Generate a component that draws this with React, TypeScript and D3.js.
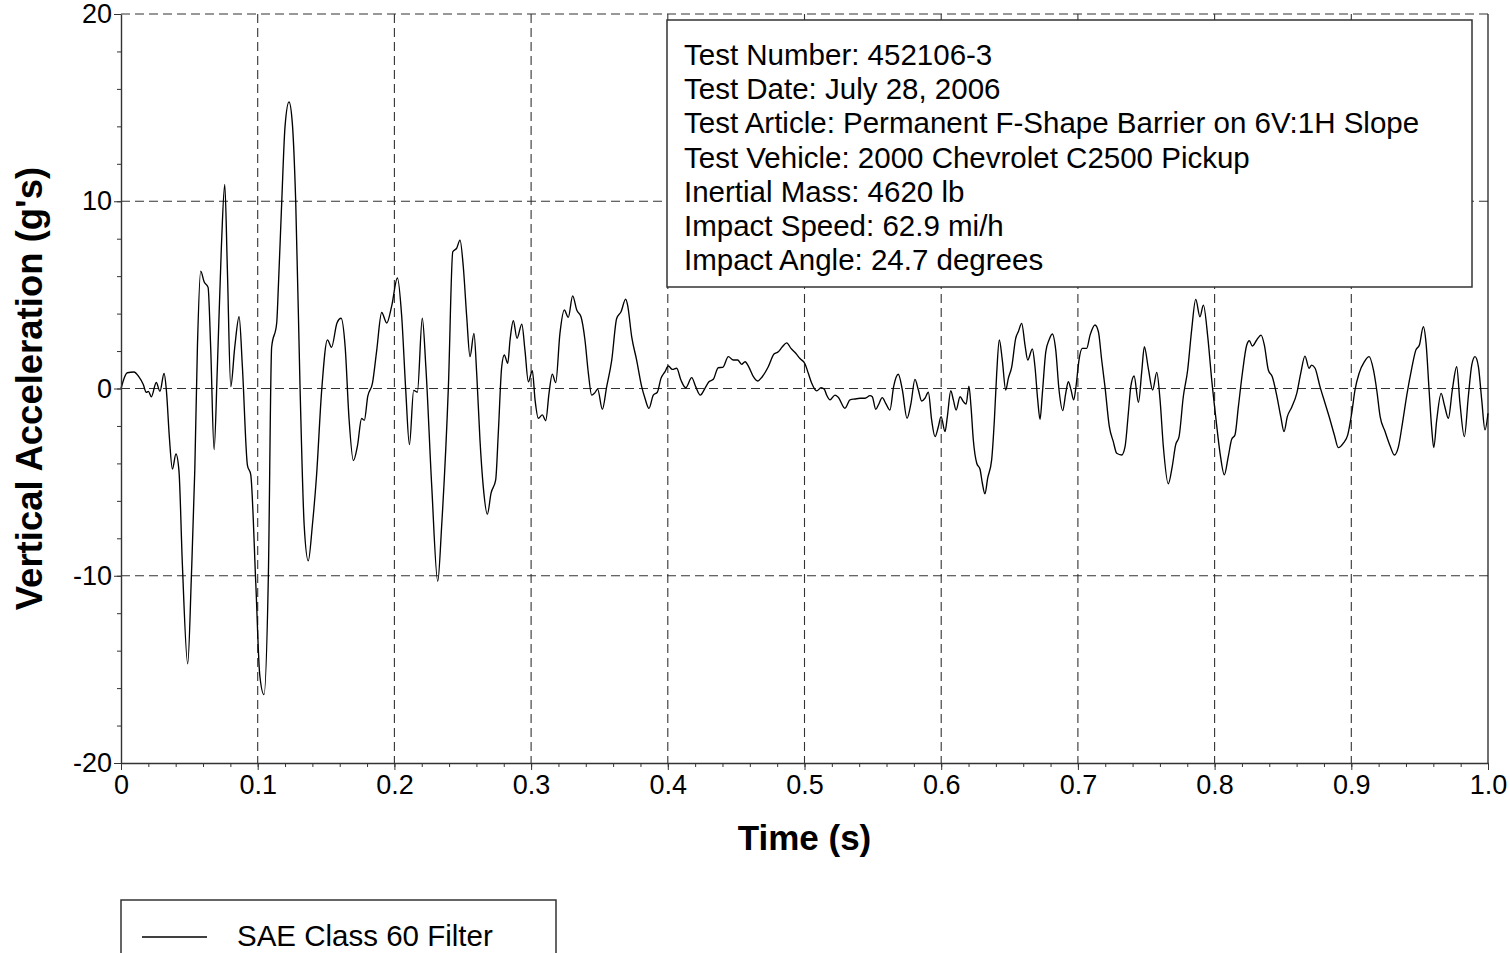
import React from "react";
import * as d3 from "d3";

// time (s) and vertical acceleration (g's)
const timeS = [
  0, 0.0046, 0.0095, 0.013, 0.0163, 0.0185, 0.02, 0.0222, 0.0258, 0.0285, 0.0315, 0.0332, 0.0354, 0.0376, 0.0402,
  0.0424, 0.0449, 0.0488, 0.0515, 0.054, 0.0559, 0.0583, 0.0608, 0.0637, 0.0656, 0.0681, 0.0705, 0.0734, 0.0759,
  0.0778, 0.0803, 0.0832, 0.0864, 0.0888, 0.0925, 0.0949, 0.0986, 0.1015, 0.1046, 0.1078, 0.1102, 0.1139, 0.1151,
  0.1176, 0.12, 0.1229, 0.1253, 0.1278, 0.131, 0.134, 0.137, 0.14, 0.143, 0.1468, 0.151, 0.154, 0.158, 0.161, 0.164,
  0.1668, 0.17, 0.173, 0.176, 0.178, 0.1805, 0.184, 0.187, 0.1907, 0.1944, 0.198, 0.2022, 0.2053, 0.2083, 0.211,
  0.2141, 0.2168, 0.2204, 0.223, 0.2273, 0.2317, 0.2346, 0.2395, 0.2427, 0.2456, 0.248, 0.2504, 0.2529, 0.2553,
  0.2582, 0.2602, 0.2626, 0.265, 0.268, 0.2707, 0.2741, 0.276, 0.2785, 0.2804, 0.2829, 0.2846, 0.287, 0.2897,
  0.2932, 0.2955, 0.298, 0.3009, 0.3029, 0.3053, 0.3082, 0.3107, 0.3131, 0.3155, 0.318, 0.3211, 0.3243, 0.3272,
  0.3304, 0.3334, 0.3365, 0.3394, 0.3419, 0.3443, 0.3467, 0.3487, 0.3521, 0.3553, 0.359, 0.3626, 0.3658, 0.3692,
  0.3706, 0.3736, 0.3772, 0.3809, 0.3833, 0.3862, 0.3894, 0.3923, 0.395, 0.398, 0.4004, 0.4033, 0.4065, 0.4096,
  0.4131, 0.4175, 0.4204, 0.4238, 0.4272, 0.4301, 0.4333, 0.4369, 0.4402, 0.4443, 0.4479, 0.4511, 0.454, 0.4565,
  0.4594, 0.4626, 0.4657, 0.4691, 0.4735, 0.4777, 0.4808, 0.4838, 0.487, 0.4901, 0.4936, 0.4967, 0.5004, 0.5028,
  0.5053, 0.5089, 0.5121, 0.5145, 0.5162, 0.5187, 0.5223, 0.5247, 0.5296, 0.5333, 0.5369, 0.5406, 0.5443, 0.5479,
  0.5496, 0.5521, 0.554, 0.5569, 0.5594, 0.5625, 0.5652, 0.5686, 0.5716, 0.575, 0.5779, 0.5808, 0.5833, 0.5857,
  0.5881, 0.5906, 0.593, 0.5955, 0.5979, 0.5999, 0.6028, 0.6045, 0.607, 0.6089, 0.6109, 0.6138, 0.6162, 0.6182,
  0.6203, 0.6218, 0.6235, 0.626, 0.6284, 0.6301, 0.632, 0.634, 0.6369, 0.6389, 0.6406, 0.6425, 0.6447, 0.6472,
  0.6491, 0.6516, 0.6545, 0.6564, 0.6589, 0.6613, 0.6633, 0.6667, 0.6686, 0.6706, 0.6723, 0.674, 0.6765, 0.6789,
  0.6813, 0.6838, 0.6862, 0.6889, 0.6911, 0.693, 0.695, 0.6969, 0.6986, 0.7008, 0.7032, 0.7064, 0.7089, 0.7125,
  0.715, 0.7174, 0.7198, 0.723, 0.7259, 0.7284, 0.732, 0.7345, 0.7369, 0.7387, 0.7411, 0.7443, 0.7467, 0.7486,
  0.7515, 0.7547, 0.7577, 0.7601, 0.7625, 0.7661, 0.769, 0.7715, 0.774, 0.7771, 0.7803, 0.7832, 0.7862, 0.7893,
  0.7918, 0.795, 0.7979, 0.8008, 0.804, 0.8071, 0.81, 0.8125, 0.8149, 0.8174, 0.8203, 0.8235, 0.8254, 0.8276,
  0.8308, 0.834, 0.8364, 0.8393, 0.8422, 0.8454, 0.8484, 0.8508, 0.8532, 0.8564, 0.8601, 0.863, 0.8661, 0.8691,
  0.871, 0.8735, 0.8771, 0.8808, 0.8845, 0.8876, 0.8905, 0.8942, 0.8974, 0.9003, 0.9027, 0.9057, 0.9096, 0.913,
  0.9162, 0.9186, 0.9211, 0.9247, 0.9284, 0.9315, 0.9345, 0.9374, 0.9406, 0.9442, 0.9472, 0.9498, 0.9527, 0.9547,
  0.9569, 0.9589, 0.9603, 0.9625, 0.9657, 0.9681, 0.971, 0.9739, 0.9771, 0.9795, 0.9827, 0.9856, 0.9881, 0.9905,
  0.993, 0.9954, 0.9978, 1.0,
];
const accelG = [
  0, 0.84, 0.88, 0.63, 0.21, -0.21, -0.15, -0.44, 0.32, -0.15, 0.8, -0.1, -2.63, -4.3, -3.5,
  -4.4, -9.4, -14.7, -10, -4.3, 2.2, 6.27, 5.7, 5.4, 2.2, -3.26, 1.16, 7.5, 10.9,
  6.4, 0.1, 2.2, 3.83, 1.16, -4.1, -4.6, -10.4, -15.3, -16.35, -10, 2.2, 3.5, 5.4,
  10, 14, 15.3, 14.2, 10, 0, -7.3, -9.2, -7.3, -4.7, -0.1, 2.6, 2.2, 3.5, 3.75, 2.2,
  -1.6, -3.85, -3.05, -1.6, -1.7, -0.42, 0.3, 2.0, 4.06, 3.5, 4.4, 5.9, 3.9, -0.1, -3.0,
  -0.1, -0.2, 3.75, 1.16, -5.2, -10.3, -7.3, 0.1, 7.3, 7.5, 7.92, 6.5, 3.83, 1.7,
  2.94, 0.81, -2.75, -5.24, -6.71, -5.59, -4.88, -2.39, 1.16, 1.79, 1.34, 2.59, 3.62, 2.68,
  3.44, 2.05, 0.36, 0.95, -0.61, -1.59, -1.41, -1.72, -0.26, 0.77, 0.31, 2.94, 4.19, 3.8,
  4.95, 4.19, 3.83, 2.59, 0.81, -0.35, -0.22, -0.03, -1.11, 0.1, 1.52, 3.74, 4.1, 4.77,
  4.45, 2.76, 1.52, 0.1, -0.52, -1.06, -0.35, -0.2, 0.54, 0.9, 1.2, 1.02, 1.08, 0.45,
  0.04, 0.58, 0.1, -0.35, 0.01, 0.36, 0.49, 1.11, 1.13, 1.7, 1.52, 1.52, 1.29, 1.43,
  1.13, 0.63, 0.4, 0.63, 1.16, 1.84, 1.96, 2.23, 2.44, 2.14, 1.88, 1.6, 1.31, 0.81,
  0.28, -0.13, 0.04, -0.04, -0.35, -0.61, -0.35, -0.47, -1.06, -0.61, -0.56, -0.52, -0.52, -0.38,
  -0.44, -1.11, -0.88, -0.49, -0.79, -1.15, 0.1, 0.76, -0.08, -1.59, -0.79, 0.49, -0.08, -0.67,
  -0.52, -0.2, -1.68, -2.57, -2.04, -1.5, -2.3, -1.5, -0.12, -0.61, -1.15, -0.44, -0.7, -0.83,
  0.13, -0.97, -2.75, -3.99, -4.31, -5.06, -5.63, -4.79, -3.81, -1.68, 0.81, 2.59, 1.52, -0.08,
  0.54, 1.16, 2.68, 3.03, 3.48, 2.32, 1.52, 2.11, 1.16, -0.61, -1.64, -0.26, 1.96, 2.59,
  2.91, 2.05, -0.08, -1.18, -0.26, 0.36, -0.08, -0.61, 0.1, 1.52, 2.14, 2.14, 2.85, 3.39,
  3.03, 1.52, 0.1, -2.04, -2.84, -3.46, -3.55, -3.1, -1.32, 0.1, 0.67, -0.74, 0.9, 2.23,
  1.08, -0.08, 0.86, -0.61, -3.1, -5.09, -4.17, -3.01, -2.57, -0.44, 0.99, 3.12, 4.76, 3.83,
  4.45, 2.76, 0.45, -1.5, -3.46, -4.61, -3.64, -2.71, -2.48, -0.97, 0.81, 2.32, 2.55, 2.27,
  2.59, 2.85, 2.32, 0.99, 0.63, -0.35, -1.5, -2.3, -1.5, -1.0, -0.26, 0.81, 1.73, 1.08,
  1.25, 1.08, 0.1, -0.79, -1.68, -2.48, -3.16, -2.92, -2.48, -1.32, -0.08, 0.81, 1.43, 1.7,
  0.99, -0.08, -1.5, -2.3, -3.07, -3.55, -3.1, -1.86, -0.35, 1.08, 2.05, 2.32, 3.3, 2.41,
  -0.08, -2.21, -3.16, -1.68, -0.26, -0.88, -1.59, -0.08, 1.16, -0.79, -2.57, -0.44, 1.25, 1.7,
  1.16, -0.61, -2.21, -1.32,
];

const xTicks = [0, 0.1, 0.2, 0.3, 0.4, 0.5, 0.6, 0.7, 0.8, 0.9, 1.0];
const xTickLabels = ["0", "0.1", "0.2", "0.3", "0.4", "0.5", "0.6", "0.7", "0.8", "0.9", "1.0"];
const yTicks = [-20, -10, 0, 10, 20];
const yTickLabels = ["-20", "-10", "0", "10", "20"];

const infoLines = [
  "Test Number: 452106-3",
  "Test Date: July 28, 2006",
  "Test Article: Permanent F-Shape Barrier on 6V:1H Slope",
  "Test Vehicle: 2000 Chevrolet C2500 Pickup",
  "Inertial Mass: 4620 lb",
  "Impact Speed: 62.9 mi/h",
  "Impact Angle: 24.7 degrees",
];
const legendLabel = "SAE Class 60 Filter";
const xTitle = "Time (s)";
const yTitle = "Vertical Acceleration (g's)";

const FONT = "'Liberation Sans', Arial, Helvetica, sans-serif";

export default class App extends React.Component {
  myRef = React.createRef<HTMLDivElement>();

  drawChart = () => {
    const node = this.myRef.current;
    d3.select(node).selectAll("*").remove();

    const width = 1510, height = 953;
    const left = 121, right = 1488, top = 14, bottom = 763;

    const svg = d3.select(node)
      .append("svg")
      .attr("width", width)
      .attr("height", height)
      .style("display", "block")
      .style("font-family", FONT);

    svg.append("rect").attr("width", width).attr("height", height).attr("fill", "#fff");

    const x = d3.scaleLinear().domain([0, 1]).range([left, right]);
    const y = d3.scaleLinear().domain([-20, 20]).range([bottom, top]);

    // dashed grid
    const grid = svg.append("g")
      .attr("stroke", "#333")
      .attr("stroke-width", 1.1)
      .attr("stroke-dasharray", "9,5");
    grid.selectAll("line.v")
      .data(xTicks.filter(t => t > 0 && t < 1))
      .join("line")
      .attr("class", "v")
      .attr("x1", d => x(d)).attr("x2", d => x(d))
      .attr("y1", y(20)).attr("y2", y(-20));
    grid.selectAll("line.h")
      .data(yTicks.filter(v => v > -20))
      .join("line")
      .attr("class", "h")
      .attr("x1", x(0)).attr("x2", x(1))
      .attr("y1", d => y(d)).attr("y2", d => y(d));

    // right border
    svg.append("line")
      .attr("x1", x(1)).attr("x2", x(1))
      .attr("y1", y(20)).attr("y2", y(-20))
      .attr("stroke", "#222").attr("stroke-width", 1.3);

    // the trace
    const line = d3.line<number>()
      .x((d, i) => x(timeS[i]))
      .y(d => y(d))
      .curve(d3.curveMonotoneX);
    svg.append("path")
      .datum(accelG)
      .attr("d", line)
      .attr("fill", "none")
      .attr("stroke", "#000")
      .attr("stroke-width", 1.35)
      .attr("stroke-linejoin", "round");

    // axes
    const xMinor = d3.range(0, 51).map(i => i / 50);
    const yMinor = d3.range(-20, 21, 2);

    const gxm = svg.append("g")
      .attr("transform", `translate(0,${bottom})`)
      .call(d3.axisBottom(x).tickValues(xMinor).tickSize(4).tickSizeOuter(0).tickFormat(() => ""));
    gxm.select(".domain").remove();
    gxm.selectAll(".tick line").attr("stroke", "#333");

    const gym = svg.append("g")
      .attr("transform", `translate(${left},0)`)
      .call(d3.axisLeft(y).tickValues(yMinor).tickSize(4).tickSizeOuter(0).tickFormat(() => ""));
    gym.select(".domain").remove();
    gym.selectAll(".tick line").attr("stroke", "#333");

    const gx = svg.append("g")
      .attr("transform", `translate(0,${bottom})`)
      .call(d3.axisBottom(x)
        .tickValues(xTicks)
        .tickFormat((d, i) => xTickLabels[i])
        .tickSize(7)
        .tickPadding(5)
        .tickSizeOuter(0))
      .attr("font-size", 27)
      .attr("font-family", FONT);
    gx.select(".domain").attr("stroke", "#333").attr("stroke-width", 1.4);
    gx.selectAll(".tick line").attr("stroke", "#333");
    gx.selectAll(".tick text").attr("fill", "#000");

    const gy = svg.append("g")
      .attr("transform", `translate(${left},0)`)
      .call(d3.axisLeft(y)
        .tickValues(yTicks)
        .tickFormat((d, i) => yTickLabels[i])
        .tickSize(7)
        .tickPadding(2)
        .tickSizeOuter(0))
      .attr("font-size", 27)
      .attr("font-family", FONT);
    gy.select(".domain").attr("stroke", "#333").attr("stroke-width", 1.4);
    gy.selectAll(".tick line").attr("stroke", "#333");
    gy.selectAll(".tick text").attr("fill", "#000");

    // axis titles
    svg.append("text")
      .attr("x", (left + right) / 2)
      .attr("y", 850)
      .attr("text-anchor", "middle")
      .attr("font-size", 35)
      .attr("font-weight", "bold")
      .text(xTitle);
    svg.append("text")
      .attr("transform", `translate(42,${(top + bottom) / 2}) rotate(-90)`)
      .attr("text-anchor", "middle")
      .attr("font-size", 36.5)
      .attr("font-weight", "bold")
      .text(yTitle);

    // info box
    const info = svg.append("g");
    info.append("rect")
      .attr("x", 667).attr("y", 20)
      .attr("width", 805).attr("height", 267)
      .attr("fill", "#fff")
      .attr("stroke", "#333")
      .attr("stroke-width", 1.5);
    info.selectAll("text")
      .data(infoLines)
      .join("text")
      .attr("x", 684)
      .attr("y", (d, i) => 65 + i * 34.2)
      .attr("font-size", 29.5)
      .text(d => d);

    // legend
    const legend = svg.append("g");
    legend.append("rect")
      .attr("x", 121).attr("y", 900)
      .attr("width", 435).attr("height", 80)
      .attr("fill", "#fff")
      .attr("stroke", "#333")
      .attr("stroke-width", 1.5);
    legend.append("line")
      .attr("x1", 142).attr("x2", 207)
      .attr("y1", 937).attr("y2", 937)
      .attr("stroke", "#000").attr("stroke-width", 1.3);
    legend.append("text")
      .attr("x", 237).attr("y", 946)
      .attr("font-size", 29.5)
      .text(legendLabel);
  };

  componentDidMount() {
    this.drawChart();
  }

  render() {
    return (
      <>
        <style>{"body{margin:0;overflow:hidden}"}</style>
        <div ref={this.myRef}></div>
      </>
    );
  }
}
